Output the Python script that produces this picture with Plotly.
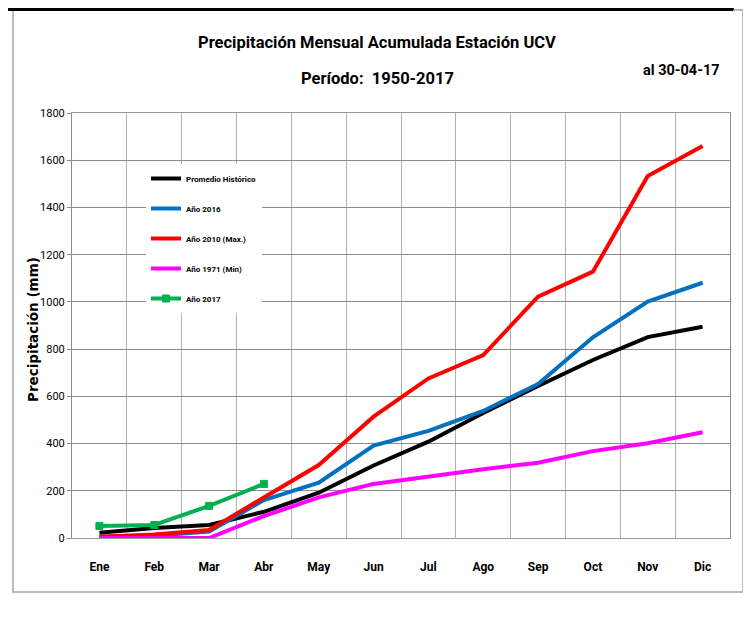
import plotly.graph_objects as go

months = ["Ene", "Feb", "Mar", "Abr", "May", "Jun", "Jul", "Ago", "Sep", "Oct", "Nov", "Dic"]
promedio = [22, 42, 55, 111, 192, 307, 408, 529, 644, 754, 851, 895]
anio_2016 = [5, 10, 27, 161, 234, 391, 454, 538, 652, 850, 1001, 1081]
anio_2010 = [5, 15, 34, 173, 309, 514, 676, 775, 1022, 1128, 1533, 1660]
anio_1971 = [0, 0, 0, 93, 172, 229, 262, 291, 319, 368, 401, 448]
months_2017 = ["Ene", "Feb", "Mar", "Abr"]
anio_2017 = [51, 55, 136, 229]
y_ticks = [0, 200, 400, 600, 800, 1000, 1200, 1400, 1600, 1800]

# page body has an 8px margin; target coordinates are screenshot pixels
OFF = 8
W, H = 751 - OFF, 618 - OFF
L, R, T, B = 72, 730, 113, 538

def px(x):
    return (x - L) / (R - L)

def py(y):
    return (B - y) / (B - T)

FONT = "Roboto, Liberation Sans, sans-serif"

fig = go.Figure()
series = [
    ("Promedio Histórico", months, promedio, "#000000"),
    ("Año 2016", months, anio_2016, "#0070C0"),
    ("Año 2010 (Max.)", months, anio_2010, "#FF0000"),
    ("Año 1971 (Min)", months, anio_1971, "#FF00FF"),
]
for i, (name, xs, ys, col) in enumerate(series):
    fig.add_trace(go.Scatter(x=xs, y=ys, name=name, mode="lines",
                             line=dict(color=col, width=4), legendgroup=str(i)))
fig.add_trace(go.Scatter(x=months_2017, y=anio_2017, name="Año 2017", mode="lines+markers",
                         line=dict(color="#00B050", width=4), legendgroup="5",
                         marker=dict(symbol="square", size=7, color="#00B050",
                                     line=dict(color="#00B050", width=1))))

shapes = [
    dict(type="rect", xref="paper", yref="paper", x0=px(13), x1=px(743), y0=py(592), y1=py(10),
         line=dict(color="#a6a6a6", width=1.5), layer="below"),
    dict(type="line", xref="paper", yref="paper", x0=px(0), x1=px(733), y0=py(9.5), y1=py(9.5),
         line=dict(color="#000000", width=3)),
    dict(type="line", xref="paper", yref="paper", x0=px(733), x1=px(733), y0=py(8), y1=py(10),
         line=dict(color="#000000", width=1.5)),
]

annotations = [
    dict(text="<b>Precipitación Mensual Acumulada Estación UCV</b>", x=px(377), y=py(42),
         xref="paper", yref="paper", showarrow=False, xanchor="center", yanchor="middle",
         font=dict(family=FONT, size=16.5, color="#000000")),
    dict(text="<b>Período:  1950-2017</b>", x=px(377), y=py(78),
         xref="paper", yref="paper", showarrow=False, xanchor="center", yanchor="middle",
         font=dict(family=FONT, size=16.5, color="#000000")),
    dict(text="<b>al 30-04-17</b>", x=px(681), y=py(71),
         xref="paper", yref="paper", showarrow=False, xanchor="center", yanchor="middle",
         font=dict(family=FONT, size=14.5, color="#000000")),
    dict(text="<b>Precipitación (mm)</b>", x=px(33), y=py(330),
         xref="paper", yref="paper", showarrow=False, xanchor="center", yanchor="middle",
         textangle=-90, font=dict(family="DejaVu Sans, Verdana, sans-serif", size=13.5, color="#000000")),
]

fig.update_layout(
    width=W, height=H,
    margin=dict(l=L - OFF, r=W - (R - OFF), t=T - OFF, b=H - (B - OFF), pad=0),
    paper_bgcolor="white", plot_bgcolor="white",
    showlegend=True,
    legend=dict(x=px(146), y=py(164), xanchor="left", yanchor="top",
                bgcolor="white", borderwidth=0, tracegroupgap=11,
                itemwidth=30,
                font=dict(family=FONT, size=8, color="#000000", weight="bold"),
                traceorder="grouped"),
    shapes=shapes,
    annotations=annotations,
    xaxis=dict(type="category", categoryorder="array", categoryarray=months,
               range=[-0.5, 11.5], tickson="boundaries", ticks="",
               showgrid=True, gridcolor="#b0b0b0", gridwidth=1,
               showline=True, linecolor="#9a9a9a", linewidth=1, mirror=True,
               tickfont=dict(family=FONT, size=12, color="#000000", weight="bold"),
               ticklabelstandoff=18, zeroline=False, fixedrange=True),
    yaxis=dict(range=[0, 1800], tickvals=y_ticks, ticktext=[str(v) for v in y_ticks],
               showgrid=True, gridcolor="#8c8c8c", gridwidth=1,
               showline=True, linecolor="#8c8c8c", linewidth=1, mirror=True,
               ticks="outside", ticklen=4, tickcolor="#8c8c8c",
               tickfont=dict(family=FONT, size=11, color="#000000"),
               zeroline=False, fixedrange=True),
)

fig.write_html("out.html")
